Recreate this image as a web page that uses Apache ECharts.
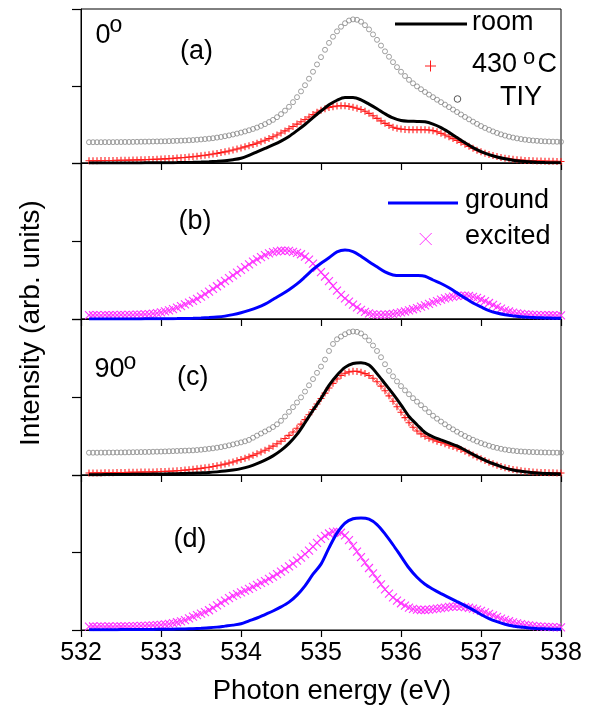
<!DOCTYPE html>
<html><head><meta charset="utf-8">
<script src="https://cdn.jsdelivr.net/npm/echarts@6/dist/echarts.min.js"></script>
<style>html,body{margin:0;padding:0;background:#fff}#c{width:592px;height:709px}</style>
</head><body><div id="c"></div>
<script>
// ---- tick labels / axis ranges ----
const xTickLabels = [532, 533, 534, 535, 536, 537, 538];
const yTickValues = [0, 1, 2];

// ---- sampling: lines every 0.1 eV, marker series every 0.05 eV, starting at 532.1 ----
const lineStart = 532.1, lineStep = 0.1;
const markStart = 532.1, markStep = 0.05;

// ---- panel (a) 0 deg ----
const roomA = [
  0,0,0,0,0,.001,.001,.002,.002,.003,
  .004,.005,.007,.009,.012,.016,.022,.030,.043,.062,
  .100,.145,.190,.235,.285,.345,.420,.500,.590,.675,
  .755,.815,.850,.850,.820,.765,.705,.640,.585,.553,
  .543,.540,.535,.505,.460,.398,.330,.262,.200,.148,
  .108,.078,.055,.037,.024,.015,.009,.005,.003,.002
];
const heat430A = [
  .030,.030,.030,.031,.032,.032,.033,.034,.035,.036,
  .037,.038,.040,.041,.043,.045,.047,.049,.052,.054,
  .057,.060,.064,.068,.072,.077,.082,.088,.094,.101,
  .108,.116,.125,.135,.145,.156,.168,.181,.195,.210,
  .225,.241,.258,.276,.295,.317,.340,.364,.390,.417,
  .445,.475,.505,.535,.565,.598,.630,.660,.685,.705,
  .720,.732,.740,.743,.742,.735,.725,.712,.695,.672,
  .645,.613,.580,.547,.515,.488,.465,.450,.440,.436,
  .433,.432,.432,.432,.432,.428,.420,.405,.385,.363,
  .340,.317,.293,.268,.243,.216,.190,.166,.145,.126,
  .110,.096,.083,.072,.063,.055,.048,.043,.038,.034,
  .031,.029,.027,.025,.024,.023,.022,.021,.020
];
const tiyA = [
  .270,.270,.270,.270,.271,.271,.271,.272,.272,.273,
  .273,.274,.275,.276,.277,.278,.279,.280,.281,.282,
  .284,.286,.288,.290,.292,.295,.298,.302,.306,.311,
  .316,.322,.330,.338,.348,.358,.370,.382,.395,.410,
  .425,.442,.460,.482,.505,.532,.560,.595,.635,.680,
  .730,.790,.855,.930,1.010,1.095,1.185,1.280,1.375,1.470,
  1.560,1.640,1.710,1.770,1.815,1.850,1.865,1.860,1.835,1.790,
  1.735,1.670,1.600,1.525,1.450,1.380,1.310,1.245,1.185,1.130,
  1.080,1.035,.995,.958,.922,.888,.855,.822,.790,.758,
  .726,.694,.662,.630,.598,.567,.537,.508,.480,.455,
  .432,.410,.390,.372,.356,.342,.330,.320,.311,.303,
  .297,.292,.288,.284,.281,.279,.277,.276,.275
];

// ---- panel (b) ----
const groundB = [
  0,0,0,0,0,.001,.001,.002,.002,.003,
  .004,.005,.007,.009,.013,.018,.025,.037,.056,.080,
  .110,.145,.190,.250,.310,.375,.450,.540,.635,.715,
  .785,.860,.884,.865,.805,.735,.670,.605,.565,.557,
  .558,.557,.548,.500,.455,.400,.335,.268,.205,.155,
  .108,.077,.055,.040,.030,.023,.017,.013,.011,.010
];
const excitedB = [
  .050,.048,.050,.047,.050,.048,.051,.049,.052,.050,
  .053,.052,.055,.057,.060,.063,.068,.075,.085,.097,
  .112,.128,.146,.166,.188,.210,.232,.258,.286,.318,
  .352,.386,.420,.455,.490,.525,.560,.595,.630,.665,
  .700,.735,.765,.793,.818,.840,.857,.868,.875,.877,
  .872,.862,.848,.830,.800,.760,.710,.655,.600,.545,
  .485,.425,.365,.310,.265,.222,.185,.150,.118,.092,
  .072,.060,.055,.054,.056,.060,.066,.074,.084,.096,
  .110,.125,.140,.158,.176,.195,.212,.230,.247,.263,
  .277,.288,.296,.300,.300,.295,.285,.270,.250,.228,
  .205,.180,.155,.132,.112,.096,.083,.073,.066,.060,
  .056,.053,.051,.050,.049,.048,.048,.047,.047
];

// ---- panel (c) 90 deg ----
const roomC = [
  .003,.004,.005,.006,.007,.008,.009,.010,.012,.013,
  .015,.017,.020,.023,.027,.032,.040,.050,.064,.082,
  .108,.145,.190,.245,.315,.405,.520,.670,.830,.980,
  1.150,1.280,1.380,1.430,1.440,1.410,1.300,1.170,1.040,.900,
  .750,.645,.545,.490,.450,.412,.372,.320,.265,.212,
  .165,.128,.092,.065,.047,.035,.026,.020,.016,.013
];
const heat430C = [
  .026,.026,.027,.027,.028,.029,.030,.031,.032,.033,
  .034,.035,.036,.037,.038,.039,.040,.042,.044,.046,
  .048,.051,.054,.058,.063,.068,.073,.079,.085,.092,
  .100,.109,.118,.129,.140,.153,.167,.182,.198,.214,
  .232,.252,.272,.294,.317,.342,.370,.400,.432,.468,
  .508,.552,.600,.652,.710,.772,.840,.910,.980,1.050,
  1.115,1.175,1.230,1.275,1.305,1.322,1.330,1.328,1.318,1.300,
  1.275,1.240,1.195,1.140,1.080,1.015,.945,.875,.805,.735,
  .670,.612,.565,.527,.497,.472,.452,.434,.417,.400,
  .383,.365,.347,.327,.305,.282,.257,.232,.208,.185,
  .163,.143,.125,.108,.094,.082,.072,.063,.056,.049,
  .044,.040,.036,.033,.031,.029,.028,.027,.026
];
const tiyC = [
  .286,.286,.286,.287,.287,.288,.288,.289,.289,.290,
  .291,.292,.293,.294,.295,.296,.298,.299,.300,.302,
  .304,.306,.308,.310,.312,.314,.316,.320,.324,.330,
  .336,.342,.350,.358,.368,.380,.392,.405,.418,.432,
  .450,.478,.505,.532,.558,.585,.615,.650,.695,.750,
  .810,.870,.930,.995,1.070,1.150,1.230,1.310,1.390,1.480,
  1.590,1.680,1.740,1.775,1.805,1.830,1.840,1.835,1.815,1.775,
  1.725,1.660,1.590,1.510,1.420,1.335,1.265,1.200,1.140,1.085,
  1.035,.985,.940,.895,.850,.805,.760,.722,.685,.650,
  .615,.585,.555,.527,.500,.475,.452,.430,.410,.392,
  .376,.360,.348,.336,.326,.318,.312,.306,.302,.299,
  .296,.294,.292,.290,.289,.288,.287,.286,.286
];

// ---- panel (d) ----
const groundD = [
  .003,.003,.004,.004,.005,.005,.006,.007,.008,.009,
  .010,.012,.014,.017,.022,.028,.037,.050,.063,.080,
  .118,.155,.200,.245,.298,.360,.450,.570,.720,.850,
  1.060,1.250,1.380,1.435,1.445,1.430,1.360,1.240,1.100,.950,
  .800,.680,.590,.526,.470,.418,.366,.315,.260,.200,
  .148,.108,.075,.052,.038,.027,.020,.015,.011,.009
];
const excitedD = [
  .043,.045,.042,.046,.043,.045,.044,.047,.045,.048,
  .047,.049,.050,.052,.054,.056,.059,.062,.066,.072,
  .080,.090,.100,.112,.128,.150,.172,.192,.212,.230,
  .255,.285,.318,.350,.380,.410,.440,.463,.485,.508,
  .532,.557,.582,.607,.632,.660,.690,.720,.752,.786,
  .820,.856,.895,.935,.980,1.025,1.075,1.125,1.175,1.215,
  1.245,1.265,1.270,1.255,1.220,1.160,1.085,1.010,.940,.870,
  .800,.730,.660,.590,.525,.470,.420,.380,.345,.315,
  .290,.272,.262,.258,.258,.262,.268,.275,.282,.290,
  .297,.302,.304,.302,.296,.287,.275,.262,.246,.228,
  .208,.188,.168,.148,.130,.113,.098,.086,.076,.067,
  .060,.053,.048,.044,.041,.039,.037,.035,.034
];

// ---- build ----
const FONT = 'Liberation Sans';
const pairs = (vals, start, step) => vals.map((v, i) => [+(start + i * step).toFixed(2), v]);
const PLUS = 'path://M0,5L10,5M5,0L5,10';
const CROSS = 'path://M0,0L10,10M10,0L0,10';

const tops = [9, 163, 319, 475];
const heights = [154, 156, 156, 155];

const grids = tops.map((t, i) => ({ left: 81, width: 480, top: t, height: heights[i],
  show: true, borderColor: '#000', borderWidth: 1, backgroundColor: 'rgba(0,0,0,0)' }));

const xAxes = tops.map((t, i) => ({
  type: 'value', gridIndex: i,
  min: xTickLabels[0], max: xTickLabels[xTickLabels.length - 1], interval: xTickLabels[1] - xTickLabels[0],
  axisLine: { show: true, onZero: false, lineStyle: { color: '#000', width: 1 } },
  axisTick: { show: true, inside: false, length: 7, lineStyle: { color: '#000', width: 1.2 } },
  axisLabel: { show: i === 3, fontSize: 25, color: '#000', fontFamily: FONT, margin: 11,
    showMinLabel: true, showMaxLabel: true },
  splitLine: { show: false }
}));
const yAxes = tops.map((t, i) => ({
  type: 'value', gridIndex: i,
  min: yTickValues[0], max: yTickValues[yTickValues.length - 1], interval: yTickValues[1] - yTickValues[0],
  axisLine: { show: true, lineStyle: { color: '#000', width: 1 } },
  axisTick: { show: true, inside: false, length: 9, lineStyle: { color: '#000', width: 1.2 } },
  axisLabel: { show: false }, splitLine: { show: false }
}));

function solid(name, vals, idx, color) {
  return { name, type: 'line', xAxisIndex: idx, yAxisIndex: idx, data: pairs(vals, lineStart, lineStep),
    showSymbol: false, smooth: 0.3, z: 5, lineStyle: { color, width: 3 }, itemStyle: { color } };
}
function marked(name, vals, idx, color, symbol, size) {
  return { name, type: 'line', xAxisIndex: idx, yAxisIndex: idx, data: pairs(vals, markStart, markStep),
    symbol, symbolSize: size, showSymbol: true, showAllSymbol: true, z: 4,
    lineStyle: { color, width: 0.7, opacity: 0.9 },
    itemStyle: { color: 'rgba(0,0,0,0)', borderColor: color, borderWidth: 1.1 } };
}
function circles(name, vals, idx) {
  return { name, type: 'scatter', xAxisIndex: idx, yAxisIndex: idx, data: pairs(vals, markStart, markStep),
    symbol: 'circle', symbolSize: 5, z: 3,
    itemStyle: { color: 'rgba(0,0,0,0)', borderColor: '#7a7a7a', borderWidth: 0.9 } };
}

const series = [
  circles('TIY', tiyA, 0),
  marked('430 °C', heat430A, 0, '#ff1a1a', PLUS, 7),
  solid('room', roomA, 0, '#000'),
  marked('excited', excitedB, 1, '#ff33ff', CROSS, 8),
  solid('ground', groundB, 1, '#0000ff'),
  circles('TIY', tiyC, 2),
  marked('430 °C', heat430C, 2, '#ff1a1a', PLUS, 7),
  solid('room', roomC, 2, '#000'),
  marked('excited', excitedD, 3, '#ff33ff', CROSS, 8),
  solid('ground', groundD, 3, '#0000ff')
];

function txt(t, x, y, size, extra) {
  return Object.assign({ type: 'text', x, y, silent: true, z: 100,
    style: { text: t, fontSize: size, fontFamily: FONT, fill: '#000', align: 'left', verticalAlign: 'middle' } }, extra || {});
}
function ln(x1, y1, x2, y2, color, w) {
  return { type: 'line', silent: true, z: 100, shape: { x1, y1, x2, y2 }, style: { stroke: color, lineWidth: w } };
}

const graphic = [
  // y axis title
  { type: 'text', x: 31, y: 323, rotation: Math.PI / 2, silent: true,
    style: { text: 'Intensity (arb. units)', fontSize: 28, fontFamily: FONT, fill: '#000', align: 'center', verticalAlign: 'middle' } },
  // x axis title
  { type: 'text', x: 332, y: 691, silent: true,
    style: { text: 'Photon energy (eV)', fontSize: 27.5, fontFamily: FONT, fill: '#000', align: 'center', verticalAlign: 'middle' } },
  // panel (a)
  txt('0', 95.5, 36, 27), txt('o', 109.5, 26, 23),
  txt('(a)', 180, 52, 27),
  ln(395, 24, 467, 24, '#000', 3), txt('room', 472, 23, 27),
  ln(425, 66, 436, 66, '#ff1a1a', 1), ln(430.5, 60.5, 430.5, 71.5, '#ff1a1a', 1),
  txt('430', 472, 65, 27), txt('o', 523, 58, 22), txt('C', 537.5, 65, 27),
  { type: 'circle', silent: true, z: 100, shape: { cx: 457.5, cy: 99, r: 3.3 }, style: { fill: 'none', stroke: '#555', lineWidth: 1 } },
  txt('TIY', 500, 98, 27),
  // panel (b)
  txt('(b)', 178.5, 222, 27),
  ln(388, 203, 458, 203, '#0000ff', 3), txt('ground', 465, 201, 27),
  ln(419.7, 233, 431.7, 245, '#ff33ff', 1), ln(431.7, 233, 419.7, 245, '#ff33ff', 1),
  txt('excited', 465, 237, 27),
  // panel (c)
  txt('90', 94.5, 370, 27), txt('o', 123.5, 362.5, 23),
  txt('(c)', 177, 377.5, 27),
  // panel (d)
  txt('(d)', 173.5, 540, 27)
];

const chart = echarts.init(document.getElementById('c'), null, { renderer: 'canvas' });
chart.setOption({
  animation: false,
  backgroundColor: '#fff',
  grid: grids, xAxis: xAxes, yAxis: yAxes, series, graphic
});
</script>
</body></html>
